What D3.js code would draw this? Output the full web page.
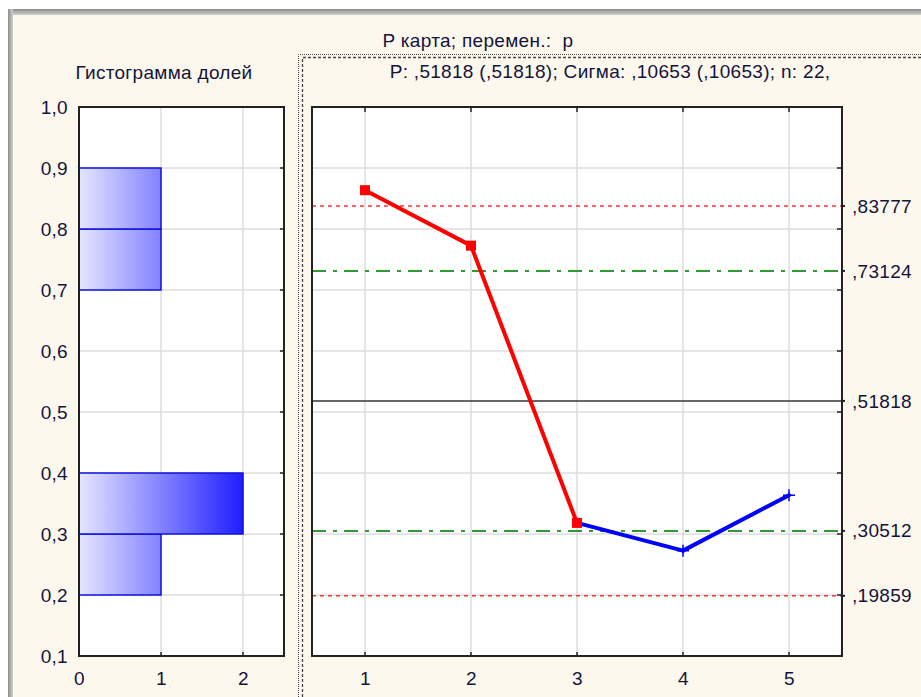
<!DOCTYPE html>
<html>
<head>
<meta charset="utf-8">
<script src="https://cdn.jsdelivr.net/npm/d3@7"></script>
<style>
  html, body { margin: 0; padding: 0; background: #ffffff; }
  svg { display: block; }
  text { font-family: "Liberation Sans", Arial, sans-serif; fill: #14143a; }
</style>
</head>
<body>
<svg id="chart" width="921" height="697"></svg>
<script>
// ---- data ----
const samples = [1, 2, 3, 4, 5];
const proportions = [19 / 22, 17 / 22, 7 / 22, 6 / 22, 8 / 22];
const pointState = ["out", "out", "out", "in", "in"];   // red squares vs blue crosses
const segmentState = ["out", "out", "in", "in"];         // colour of segment i -> i+1
const histBinStart = [0.2, 0.3, 0.7, 0.8];
const histCounts = [1, 2, 1, 1];
const yTicks = [0.1, 0.2, 0.3, 0.4, 0.5, 0.6, 0.7, 0.8, 0.9, 1.0];
const yTickLabels = ["0,1", "0,2", "0,3", "0,4", "0,5", "0,6", "0,7", "0,8", "0,9", "1,0"];
const countTicks = [0, 1, 2];
const limitValues = [0.83777, 0.73124, 0.51818, 0.30512, 0.19859];
const limitLabels = [",83777", ",73124", ",51818", ",30512", ",19859"];
const limitKinds = ["sigma3", "sigma2", "center", "sigma2", "sigma3"];
const chartTitle = "P карта; перемен.:  p";
const chartSubtitle = "P: ,51818 (,51818); Сигма: ,10653 (,10653); n: 22,";
const histTitle = "Гистограмма долей";

const svg = d3.select("#chart");
const W = 921, H = 697;
const defs = svg.append("defs");
const fontFamily = "Liberation Sans, Arial, sans-serif";
const fontSize = 19;
const spacing = "0.3px";

// ---- window background and frame ----
svg.append("rect").attr("x", 8).attr("y", 9).attr("width", W).attr("height", H).attr("fill", "#fdf8ee");
const frameGrad = defs.append("linearGradient").attr("id", "frameTop")
  .attr("x1", 0).attr("y1", 0).attr("x2", 0).attr("y2", 1);
frameGrad.append("stop").attr("offset", 0).attr("stop-color", "#8c8c8c");
frameGrad.append("stop").attr("offset", 1).attr("stop-color", "#d0d0d0");
svg.append("rect").attr("x", 8).attr("y", 9).attr("width", W).attr("height", 6).attr("fill", "url(#frameTop)");
const frameGradL = defs.append("linearGradient").attr("id", "frameLeft")
  .attr("x1", 0).attr("y1", 0).attr("x2", 1).attr("y2", 0);
frameGradL.append("stop").attr("offset", 0).attr("stop-color", "#8c8c8c");
frameGradL.append("stop").attr("offset", 1).attr("stop-color", "#d0d0d0");
svg.append("rect").attr("x", 8).attr("y", 9).attr("width", 5).attr("height", H).attr("fill", "url(#frameLeft)");

// dotted selection frame round the control chart
svg.append("path").attr("d", `M298.5,${H} V54.5 H${W}`)
  .attr("fill", "none").attr("stroke", "#444").attr("stroke-width", 1).attr("stroke-dasharray", "1,1");
svg.append("path").attr("d", `M302.5,${H} V57.5 H${W}`)
  .attr("fill", "none").attr("stroke", "#444").attr("stroke-width", 1.3).attr("stroke-dasharray", "3,2");

// ---- shared vertical scale ----
const plotTop = 107, plotBottom = 656;
const y = d3.scaleLinear().domain([0.1, 1.0]).range([plotBottom, plotTop]);
const styleTickText = sel => sel.selectAll("text")
  .attr("font-size", fontSize).attr("font-family", fontFamily)
  .attr("letter-spacing", spacing).attr("fill", "#14143a");

// ---- histogram panel ----
const hx = d3.scaleLinear().domain([0, 2.5]).range([79, 284]);
const hist = svg.append("g");
hist.append("rect").attr("x", hx(0)).attr("y", plotTop).attr("width", hx(2.5) - hx(0))
  .attr("height", plotBottom - plotTop).attr("fill", "#ffffff");

const barGrad = defs.append("linearGradient").attr("id", "barGrad")
  .attr("gradientUnits", "userSpaceOnUse")
  .attr("x1", hx(0)).attr("y1", 0).attr("x2", hx(2)).attr("y2", 0);
barGrad.append("stop").attr("offset", 0).attr("stop-color", "#e6e6ff");
barGrad.append("stop").attr("offset", 1).attr("stop-color", "#1e1eff");

// grid
hist.append("g").selectAll("line").data(yTicks.slice(1, -1)).join("line")
  .attr("x1", hx(0)).attr("x2", hx(2.5)).attr("y1", d => y(d)).attr("y2", d => y(d))
  .attr("stroke", "#dcdcdc").attr("stroke-width", 1.5);
hist.append("g").selectAll("line").data(countTicks.slice(1)).join("line")
  .attr("x1", d => hx(d)).attr("x2", d => hx(d)).attr("y1", plotTop).attr("y2", plotBottom)
  .attr("stroke", "#dcdcdc").attr("stroke-width", 1.5);

// bars
hist.append("g").selectAll("rect").data(histBinStart.map((b, i) => ({ b, c: histCounts[i] }))).join("rect")
  .attr("x", hx(0)).attr("width", d => hx(d.c) - hx(0))
  .attr("y", d => y(d.b + 0.1)).attr("height", d => y(d.b) - y(d.b + 0.1))
  .attr("fill", "url(#barGrad)").attr("stroke", "#1010e0").attr("stroke-width", 1.5);

// axes
hist.append("g").attr("transform", `translate(${hx(0)},0)`)
  .call(d3.axisLeft(y).tickValues(yTicks).tickFormat((d, i) => yTickLabels[i]).tickSize(0).tickPadding(11))
  .call(g => g.select(".domain").remove())
  .call(styleTickText);
hist.append("g").attr("transform", `translate(0,${plotBottom})`)
  .call(d3.axisBottom(hx).tickValues(countTicks).tickFormat(d3.format("d")).tickSize(0).tickPadding(16))
  .call(g => g.select(".domain").remove())
  .call(styleTickText);
// inner tick marks
hist.append("g").selectAll("line").data(yTicks).join("line")
  .attr("x1", hx(2.5) - 4).attr("x2", hx(2.5)).attr("y1", d => y(d)).attr("y2", d => y(d))
  .attr("stroke", "#222").attr("stroke-width", 1.5);
hist.append("g").selectAll("line").data(countTicks.slice(1)).join("line")
  .attr("x1", d => hx(d)).attr("x2", d => hx(d)).attr("y1", plotBottom - 4).attr("y2", plotBottom)
  .attr("stroke", "#222").attr("stroke-width", 1.5);
hist.append("rect").attr("x", hx(0)).attr("y", plotTop).attr("width", hx(2.5) - hx(0))
  .attr("height", plotBottom - plotTop).attr("fill", "none").attr("stroke", "#222").attr("stroke-width", 2);

hist.append("text").attr("x", 164).attr("y", 79).attr("text-anchor", "middle")
  .attr("font-size", fontSize).attr("letter-spacing", spacing).text(histTitle);

// ---- control chart panel ----
const cx = d3.scaleLinear().domain([0.5, 5.5]).range([312, 842]);
const ctl = svg.append("g");
ctl.append("rect").attr("x", cx(0.5)).attr("y", plotTop).attr("width", cx(5.5) - cx(0.5))
  .attr("height", plotBottom - plotTop).attr("fill", "#ffffff");

ctl.append("g").selectAll("line").data(yTicks.slice(1, -1)).join("line")
  .attr("x1", cx(0.5)).attr("x2", cx(5.5)).attr("y1", d => y(d)).attr("y2", d => y(d))
  .attr("stroke", "#dcdcdc").attr("stroke-width", 1.5);
ctl.append("g").selectAll("line").data(samples).join("line")
  .attr("x1", d => cx(d)).attr("x2", d => cx(d)).attr("y1", plotTop).attr("y2", plotBottom)
  .attr("stroke", "#dcdcdc").attr("stroke-width", 1.5);

// control limits
const limitStyle = {
  sigma3: { color: "#ff3030", dash: "4,4", w: 1.5 },
  sigma2: { color: "#2f9a2f", dash: "14,7,4,7", w: 2 },
  center: { color: "#333333", dash: null, w: 1.5 }
};
ctl.append("g").selectAll("line").data(limitValues.map((v, i) => ({ v, k: limitKinds[i] }))).join("line")
  .attr("x1", cx(0.5)).attr("x2", cx(5.5)).attr("y1", d => y(d.v)).attr("y2", d => y(d.v))
  .attr("stroke", d => limitStyle[d.k].color).attr("stroke-width", d => limitStyle[d.k].w)
  .attr("stroke-dasharray", d => limitStyle[d.k].dash);

// tick marks: inward on right / top / bottom, outward at control-limit values
ctl.append("g").selectAll("line").data(yTicks).join("line")
  .attr("x1", cx(5.5) - 5).attr("x2", cx(5.5)).attr("y1", d => y(d)).attr("y2", d => y(d))
  .attr("stroke", "#222").attr("stroke-width", 1.5);
ctl.append("g").selectAll("line").data(limitValues).join("line")
  .attr("x1", cx(5.5)).attr("x2", cx(5.5) + 3).attr("y1", d => y(d)).attr("y2", d => y(d))
  .attr("stroke", "#222").attr("stroke-width", 2);
ctl.append("g").selectAll("line").data(samples).join("line")
  .attr("x1", d => cx(d)).attr("x2", d => cx(d)).attr("y1", plotBottom - 4).attr("y2", plotBottom)
  .attr("stroke", "#222").attr("stroke-width", 1.5);
ctl.append("g").selectAll("line").data(samples).join("line")
  .attr("x1", d => cx(d)).attr("x2", d => cx(d)).attr("y1", plotTop).attr("y2", plotTop + 5)
  .attr("stroke", "#222").attr("stroke-width", 1.5);

// data line
const pts = samples.map((s, i) => ({ s, p: proportions[i], st: pointState[i] }));
const colorOf = st => st === "out" ? "#ff0000" : "#0000ff";
ctl.append("g").selectAll("line").data(segmentState).join("line")
  .attr("x1", (d, i) => cx(pts[i].s)).attr("y1", (d, i) => y(pts[i].p))
  .attr("x2", (d, i) => cx(pts[i + 1].s)).attr("y2", (d, i) => y(pts[i + 1].p))
  .attr("stroke", d => colorOf(d)).attr("stroke-width", 4).attr("stroke-linecap", "round");
ctl.append("g").selectAll("rect").data(pts.filter(d => d.st === "out")).join("rect")
  .attr("x", d => cx(d.s) - 5).attr("y", d => y(d.p) - 5).attr("width", 10).attr("height", 10)
  .attr("fill", "#ff0000");
ctl.append("g").selectAll("path").data(pts.filter(d => d.st === "in")).join("path")
  .attr("d", d => `M${cx(d.s) - 6},${y(d.p)} h12 M${cx(d.s)},${y(d.p) - 6} v12`)
  .attr("stroke", "#0000ff").attr("stroke-width", 1.5);

ctl.append("rect").attr("x", cx(0.5)).attr("y", plotTop).attr("width", cx(5.5) - cx(0.5))
  .attr("height", plotBottom - plotTop).attr("fill", "none").attr("stroke", "#222").attr("stroke-width", 2);

// axis labels
ctl.append("g").attr("transform", `translate(0,${plotBottom})`)
  .call(d3.axisBottom(cx).tickValues(samples).tickFormat(d3.format("d")).tickSize(0).tickPadding(16))
  .call(g => g.select(".domain").remove())
  .call(styleTickText);
ctl.append("g").attr("transform", `translate(${cx(5.5)},0)`)
  .call(d3.axisRight(y).tickValues(limitValues).tickFormat((d, i) => limitLabels[i]).tickSize(0).tickPadding(10))
  .call(g => g.select(".domain").remove())
  .call(styleTickText);

// titles
svg.append("text").attr("x", 478).attr("y", 47).attr("text-anchor", "middle")
  .attr("font-size", fontSize).attr("letter-spacing", spacing).style("white-space", "pre").text(chartTitle);
svg.append("text").attr("x", 610).attr("y", 78).attr("text-anchor", "middle")
  .attr("font-size", fontSize).attr("letter-spacing", spacing).text(chartSubtitle);
</script>
</body>
</html>
